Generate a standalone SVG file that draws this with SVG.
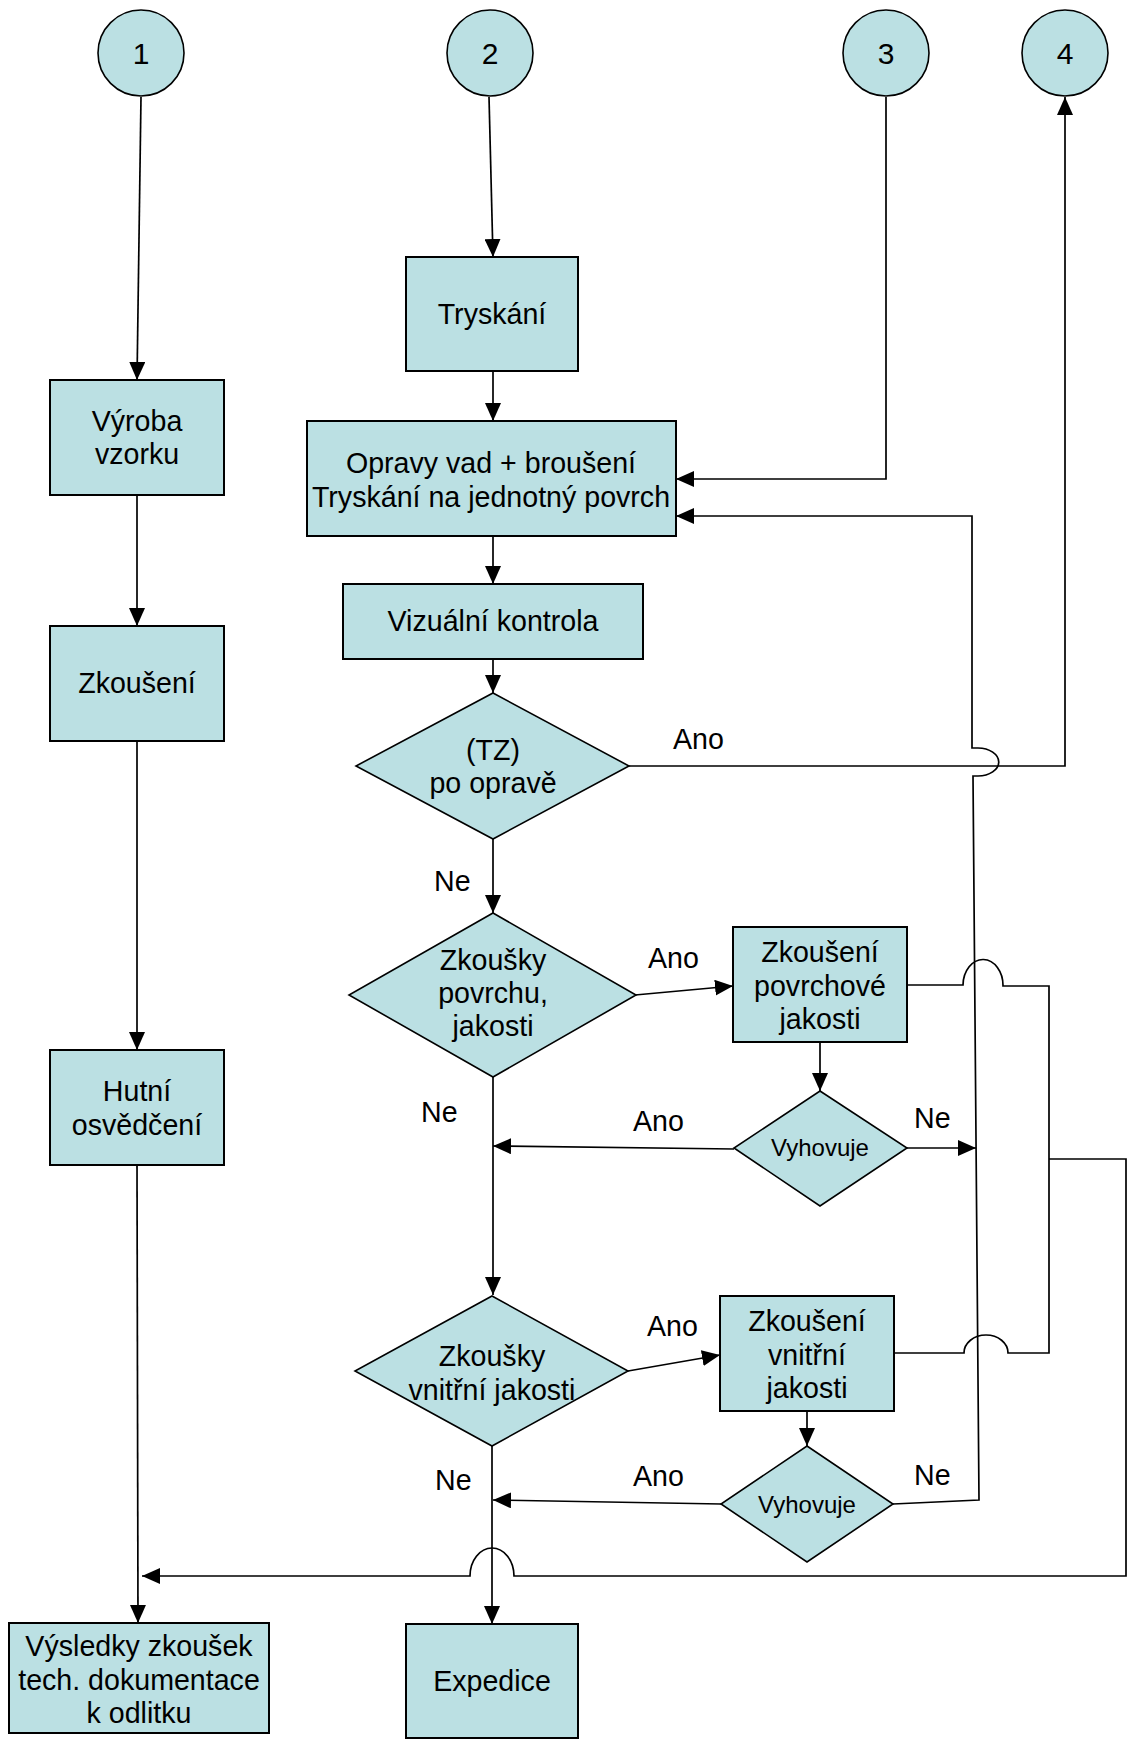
<svg xmlns="http://www.w3.org/2000/svg" width="1128" height="1742" viewBox="0 0 1128 1742">
<defs>
<marker id="ah" viewBox="0 0 18 16" refX="18" refY="8" markerWidth="18" markerHeight="16" markerUnits="userSpaceOnUse" orient="auto">
<path d="M0,0 L18,8 L0,16 z" fill="#000"/>
</marker>
<style>
.box{fill:#BBE0E3;stroke:#000;stroke-width:2}
.dia{fill:#BBE0E3;stroke:#000;stroke-width:1.6}
.circ{fill:#BBE0E3;stroke:#000;stroke-width:1.6}
.t{font-family:"Liberation Sans",Arial,sans-serif;font-size:28.6px;fill:#000;text-anchor:middle}
.s{font-family:"Liberation Sans",Arial,sans-serif;font-size:24px;fill:#000;text-anchor:middle}
.n{font-family:"Liberation Sans",Arial,sans-serif;font-size:30px;fill:#000;text-anchor:middle}
.l{font-family:"Liberation Sans",Arial,sans-serif;font-size:28.6px;fill:#000}
.c{fill:none;stroke:#000;stroke-width:1.7}
.a{marker-end:url(#ah)}
</style>
</defs>
<rect width="1128" height="1742" fill="#fff"/>

<g id="connectors">
<path class="c a" d="M141,97 L137,380"/>
<path class="c a" d="M137,495 L137,626"/>
<path class="c a" d="M137,741 L137,1050"/>
<path class="c a" d="M137,1165 L138,1623"/>
<path class="c a" d="M489,97 L493,257"/>
<path class="c a" d="M493,371 L493,421"/>
<path class="c a" d="M886,97 V479 H676"/>
<path class="c a" d="M493,536 L493,584"/>
<path class="c a" d="M493,659 L493,693"/>
<path class="c a" d="M629,766 H1065 V97"/>
<path class="c a" d="M493,839 L493,913"/>
<path class="c a" d="M635,995 L733,986"/>
<path class="c a" d="M820,1042 L820,1091"/>
<path class="c a" d="M734,1149 L493,1146"/>
<path class="c a" d="M907,1148 L976,1148"/>
<path class="c a" d="M493,1077 L493,1295"/>
<path class="c a" d="M628,1371 L720,1355"/>
<path class="c a" d="M807,1411 L807,1446"/>
<path class="c a" d="M721,1504 L493,1500"/>
<path class="c a" d="M893,1504 L979,1500 L973,776 H978 A20,13.5 0 0 0 978,748 H972 L972,516 H676"/>
<path class="c a" d="M492,1446 L492,1624"/>
<path class="c" d="M907,985 H963 A20,26 0 0 1 1003,986 H1049 V1353 H1008 A22,18 0 0 0 964,1353 H894"/>
<path class="c a" d="M1049,1159 H1126 V1576 H514 A22,28 0 0 0 470,1576 H142"/>
</g>

<g id="n1"><ellipse class="circ" cx="141" cy="53" rx="43" ry="43"/><text class="n" x="141" y="64">1</text></g>
<g id="n2"><ellipse class="circ" cx="490" cy="53" rx="43" ry="43"/><text class="n" x="490" y="64">2</text></g>
<g id="n3"><ellipse class="circ" cx="886" cy="53" rx="43" ry="43"/><text class="n" x="886" y="64">3</text></g>
<g id="n4"><ellipse class="circ" cx="1065" cy="53" rx="43" ry="43"/><text class="n" x="1065" y="64">4</text></g>

<g id="vyroba"><rect class="box" x="50" y="380" width="174" height="115"/><text class="t" x="137" y="431">Výroba</text><text class="t" x="137" y="464">vzorku</text></g>
<g id="zkouseni"><rect class="box" x="50" y="626" width="174" height="115"/><text class="t" x="137" y="693">Zkoušení</text></g>
<g id="hutni"><rect class="box" x="50" y="1050" width="174" height="115"/><text class="t" x="137" y="1101">Hutní</text><text class="t" x="137" y="1135">osvědčení</text></g>
<g id="vysledky"><rect class="box" x="9" y="1623" width="260" height="110"/><text class="t" x="139" y="1656">Výsledky zkoušek</text><text class="t" x="139" y="1690">tech. dokumentace</text><text class="t" x="139" y="1723">k odlitku</text></g>

<g id="tryskani"><rect class="box" x="406" y="257" width="172" height="114"/><text class="t" x="492" y="324">Tryskání</text></g>
<g id="opravy"><rect class="box" x="307" y="421" width="369" height="115"/><text class="t" x="491" y="473">Opravy vad + broušení</text><text class="t" x="491" y="507">Tryskání na jednotný povrch</text></g>
<g id="vizualni"><rect class="box" x="343" y="584" width="300" height="75"/><text class="t" x="493" y="631">Vizuální kontrola</text></g>
<g id="tz"><polygon class="dia" points="493,693 629,766 493,839 356,766"/><text class="t" x="493" y="760">(TZ)</text><text class="t" x="493" y="793">po opravě</text></g>
<g id="d2"><polygon class="dia" points="493,913 636,995 493,1077 349,995"/><text class="t" x="493" y="970">Zkoušky</text><text class="t" x="493" y="1003">povrchu,</text><text class="t" x="493" y="1036">jakosti</text></g>
<g id="povrch"><rect class="box" x="733" y="927" width="174" height="115"/><text class="t" x="820" y="962">Zkoušení</text><text class="t" x="820" y="996">povrchové</text><text class="t" x="820" y="1029">jakosti</text></g>
<g id="vyh1"><polygon class="dia" points="820,1091 907,1148 820,1206 734,1148"/><text class="s" x="820" y="1156">Vyhovuje</text></g>
<g id="d3"><polygon class="dia" points="492,1296 628,1371 492,1446 355,1371"/><text class="t" x="492" y="1366">Zkoušky</text><text class="t" x="492" y="1400">vnitřní jakosti</text></g>
<g id="vnitrni"><rect class="box" x="720" y="1296" width="174" height="115"/><text class="t" x="807" y="1331">Zkoušení</text><text class="t" x="807" y="1365">vnitřní</text><text class="t" x="807" y="1398">jakosti</text></g>
<g id="vyh2"><polygon class="dia" points="807,1446 893,1504 807,1562 721,1504"/><text class="s" x="807" y="1513">Vyhovuje</text></g>
<g id="expedice"><rect class="box" x="406" y="1624" width="172" height="114"/><text class="t" x="492" y="1691">Expedice</text></g>

<g id="labels">
<text class="l" x="673" y="749">Ano</text>
<text class="l" x="434" y="891">Ne</text>
<text class="l" x="648" y="968">Ano</text>
<text class="l" x="421" y="1122">Ne</text>
<text class="l" x="633" y="1131">Ano</text>
<text class="l" x="914" y="1128">Ne</text>
<text class="l" x="647" y="1336">Ano</text>
<text class="l" x="435" y="1490">Ne</text>
<text class="l" x="633" y="1486">Ano</text>
<text class="l" x="914" y="1485">Ne</text>
</g>
</svg>
